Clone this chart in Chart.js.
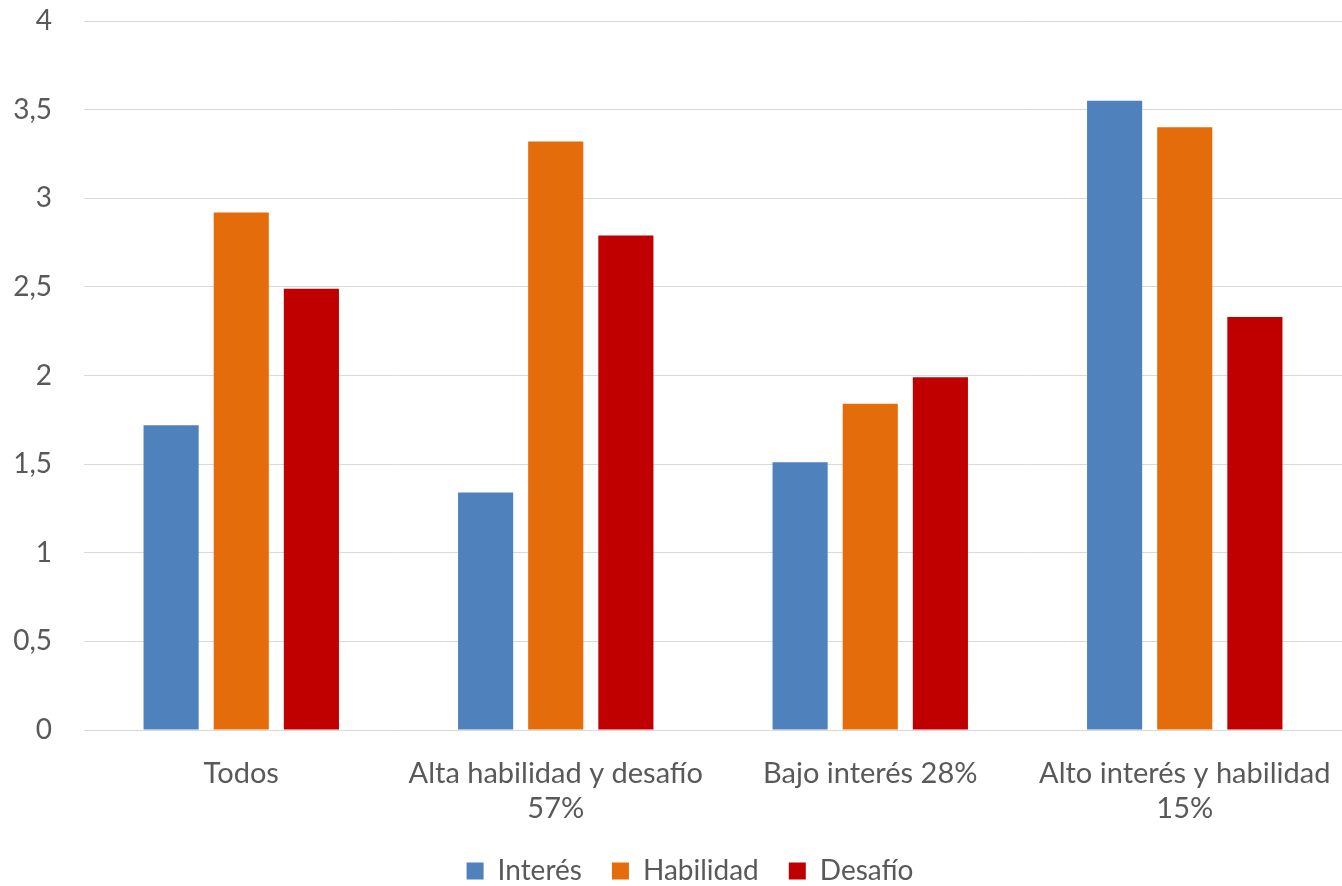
<!DOCTYPE html>
<html>
<head>
<meta charset="utf-8">
<style>
  html, body { margin: 0; padding: 0; background: #ffffff; }
  #wrap { width: 1342px; height: 886px; }
</style>
<script src="https://cdn.jsdelivr.net/npm/chart.js@4/dist/chart.umd.min.js"></script>
</head>
<body>
<div id="wrap"><canvas id="c" width="1342" height="886"></canvas></div>
<script>
// Categorías (etiquetas del eje X, en varias líneas)
const categories = [
  ['Todos'],
  ['Alta habilidad y desafío', '57%'],
  ['Bajo interés 28%'],
  ['Alto interés y habilidad', '15%']
];
// Valores medios por grupo
const interes   = [1.72, 1.34, 1.51, 3.55];
const habilidad = [2.92, 3.32, 1.84, 3.40];
const desafio   = [2.49, 2.79, 1.99, 2.33];
// Eje Y
const yTicks = [0, 0.5, 1, 1.5, 2, 2.5, 3, 3.5, 4];

const FONT = "Lato, 'Open Sans', sans-serif";
const TEXT = '#595959';

// Leyenda más compacta en vertical y ligeramente desplazada a la derecha
const compactLegend = {
  id: 'compactLegend',
  beforeLayout(chart) {
    const lg = chart.legend;
    if (lg && !lg._compactPatched) {
      const fit = lg.fit;
      lg.fit = function () {
        fit.call(this);
        this.height = 59;
      };
      lg._compactPatched = true;
    }
  },
  afterLayout(chart) {
    const lg = chart.legend;
    if (lg) { lg.left += 19; lg.right += 19; }
  }
};

new Chart(document.getElementById('c'), {
  type: 'bar',
  data: {
    labels: categories,
    datasets: [
      { label: 'Interés',   data: interes,   backgroundColor: '#4F81BD' },
      { label: 'Habilidad', data: habilidad, backgroundColor: '#E46C0A' },
      { label: 'Desafío',   data: desafio,   backgroundColor: '#C00000' }
    ]
  },
  plugins: [compactLegend],
  options: {
    responsive: false,
    animation: false,
    layout: { padding: { top: 21, right: 0, left: 0, bottom: 0 } },
    datasets: { bar: { categoryPercentage: 0.669, barPercentage: 0.786 } },
    plugins: {
      legend: {
        position: 'bottom',
        labels: {
          color: TEXT,
          font: { family: FONT, size: 28 },
          boxWidth: 17, boxHeight: 17,
          padding: 30
        }
      },
      tooltip: { enabled: false }
    },
    scales: {
      x: {
        afterFit: (s) => { s.height = 97; s.paddingLeft = 0; s.paddingRight = 0; },
        grid: { display: false },
        border: { display: true, color: '#D9D9D9', width: 1 },
        ticks: {
          color: TEXT,
          font: { family: FONT, size: 29, lineHeight: 1.2 },
          maxRotation: 0, autoSkip: false, padding: 18
        }
      },
      y: {
        min: 0, max: 4,
        afterFit: (s) => { s.width = 84; s.paddingTop = 0; s.paddingBottom = 0; },
        afterBuildTicks: (s) => { s.ticks = yTicks.map(v => ({ value: v })); },
        grid: { color: '#D9D9D9', lineWidth: 1, drawTicks: false },
        border: { display: false },
        ticks: {
          color: TEXT,
          font: { family: FONT, size: 28 },
          padding: 32,
          callback: (v) => String(v).replace('.', ',')
        }
      }
    }
  }
});
</script>
</body>
</html>
